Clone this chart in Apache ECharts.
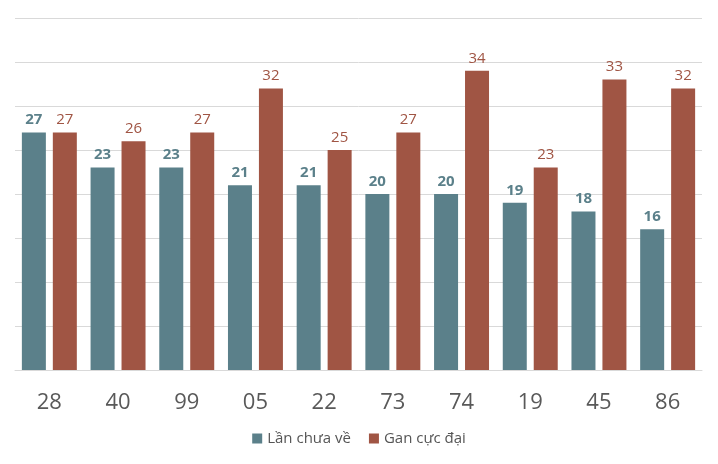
<!DOCTYPE html>
<html><head><meta charset="utf-8">
<script src="https://cdn.jsdelivr.net/npm/echarts@6/dist/echarts.min.js"></script>
<style>html,body{margin:0;padding:0;background:#fff}#c{width:718px;height:464px}</style>
</head><body><div id="c"></div>
<script>
var categories = ['28','40','99','05','22','73','74','19','45','86'];
var lanChuaVe = [27,23,23,21,21,20,20,19,18,16];
var ganCucDai = [27,26,27,32,25,27,34,23,33,32];
var chart = echarts.init(document.getElementById('c'));
chart.setOption({
  animation:false,
  textStyle:{fontFamily:'Open Sans'},
  grid:{left:15,right:16,top:18,bottom:94,containLabel:false},
  legend:{bottom:13,left:'center',itemWidth:10,itemHeight:10,itemGap:18,icon:'rect',
    textStyle:{fontSize:15,color:'#555',fontFamily:'Open Sans'},
    data:['Lần chưa về','Gan cực đại']},
  xAxis:{type:'category',data:categories,
    axisLine:{show:true,lineStyle:{color:'#d9d9d9'}},axisTick:{show:false},
    axisLabel:{fontSize:22,color:'#595959',margin:22,fontFamily:'Open Sans'}},
  yAxis:{type:'value',min:0,max:40,interval:5,
    axisLabel:{show:false},axisLine:{show:false},axisTick:{show:false},
    splitLine:{lineStyle:{color:'#d9d9d9'}}},
  series:[
    {name:'Lần chưa về',type:'bar',data:lanChuaVe,barWidth:24,barGap:'29%',
     itemStyle:{color:'#5b808a'},
     label:{show:true,position:'top',distance:5,fontSize:15,fontWeight:'bold',color:'#5b808a',fontFamily:'Open Sans'}},
    {name:'Gan cực đại',type:'bar',data:ganCucDai,barWidth:24,
     itemStyle:{color:'#a05544'},
     label:{show:true,position:'top',distance:5,fontSize:15,color:'#a05544',fontFamily:'Open Sans'}}
  ]
});
</script></body></html>
